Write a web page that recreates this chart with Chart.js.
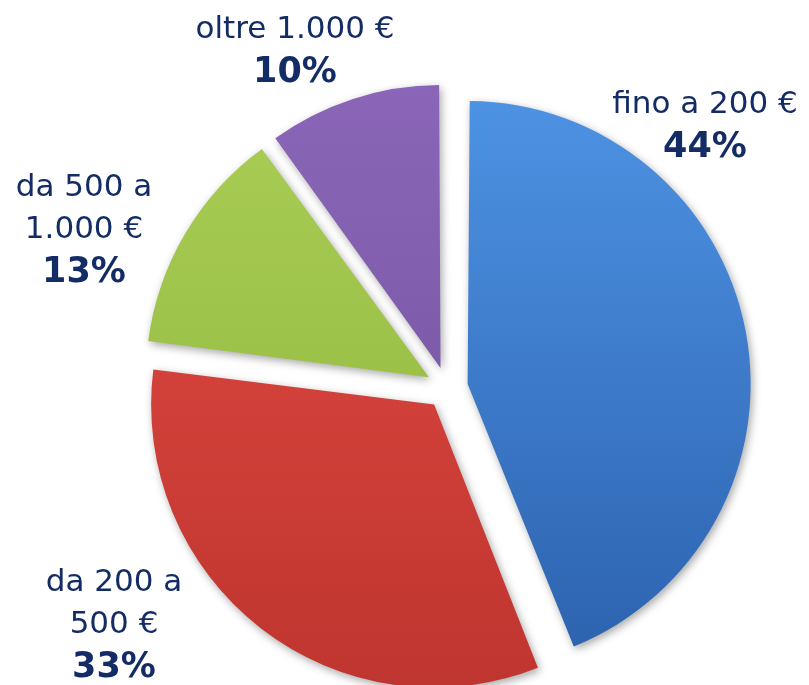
<!DOCTYPE html>
<html>
<head>
<meta charset="utf-8">
<script src="https://cdn.jsdelivr.net/npm/chart.js@4.4.1/dist/chart.umd.min.js"></script>
<style>
  html, body { margin: 0; padding: 0; background: #fff; }
</style>
</head>
<body>
<canvas id="pie" width="809" height="685"></canvas>
<script>
// data
const categories = [['fino a 200 €'], ['da 200 a', '500 €'], ['da 500 a', '1.000 €'], ['oltre 1.000 €']];
const shares = [44, 33, 13, 10];
const shareLabels = ['44%', '33%', '13%', '10%'];

// light (top) / dark (bottom) of each slice
const sliceLight = ['#4d92e3', '#e24a43', '#a9cd55', '#8b66b8'];
const sliceDark = ['#2c62ae', '#bf352f', '#8fb53c', '#70509c'];

const pieRadius = 283;
const textColor = '#142c66';

// where the percentage line of every label sits (baseline), text lines stack above it
const labelSpots = [
  { x: 705, y: 157 },
  { x: 114, y: 677 },
  { x: 84, y: 282 },
  { x: 295, y: 82 }
];

function sliceFill(ctx) {
  const chart = ctx.chart;
  const area = chart.chartArea;
  const i = ctx.dataIndex;
  if (!area) return sliceLight[i];
  const cy = (area.top + area.bottom) / 2;
  const g = chart.ctx.createLinearGradient(0, cy - pieRadius, 0, cy + pieRadius);
  g.addColorStop(0, sliceLight[i]);
  g.addColorStop(1, sliceDark[i]);
  return g;
}

// chart.js grows the radius of exploded slices a bit, undo that so all slices are the same size
const evenOffset = {
  id: 'evenOffset',
  afterDatasetUpdate(chart, args) {
    chart.getDatasetMeta(args.index).data.forEach(arc => {
      const push = (arc.options.offset || 0) / 4;
      arc.outerRadius -= push * (1 - Math.sin(Math.min(Math.PI, arc.circumference)));
    });
  }
};

const softShadow = {
  id: 'softShadow',
  beforeDatasetsDraw(chart) {
    const c = chart.ctx;
    c.save();
    c.shadowColor = 'rgba(0,0,0,0.35)';
    c.shadowBlur = 8;
    c.shadowOffsetX = 2;
    c.shadowOffsetY = 3;
  },
  afterDatasetsDraw(chart) {
    chart.ctx.restore();
  }
};

const sliceLabels = {
  id: 'sliceLabels',
  afterDraw(chart) {
    const c = chart.ctx;
    c.save();
    c.fillStyle = textColor;
    c.textAlign = 'center';
    c.textBaseline = 'alphabetic';
    chart.data.labels.forEach((lines, i) => {
      const spot = labelSpots[i];
      c.font = 'bold 35px "DejaVu Sans"';
      c.fillText(shareLabels[i], spot.x, spot.y);
      c.font = '31px "DejaVu Sans"';
      let y = spot.y - 44;
      for (let k = lines.length - 1; k >= 0; k--) {
        c.fillText(lines[k], spot.x, y);
        y -= 42;
      }
    });
    c.restore();
  }
};

new Chart(document.getElementById('pie'), {
  type: 'pie',
  data: {
    labels: categories,
    datasets: [{
      data: shares,
      backgroundColor: sliceFill,
      borderWidth: 0,
      offset: 84,
      radius: pieRadius,
      clip: false
    }]
  },
  options: {
    responsive: false,
    animation: false,
    layout: { padding: { left: 85, top: 91, right: 0, bottom: 0 } },
    plugins: {
      legend: { display: false },
      tooltip: { enabled: false }
    }
  },
  plugins: [evenOffset, softShadow, sliceLabels]
});
</script>
</body>
</html>
